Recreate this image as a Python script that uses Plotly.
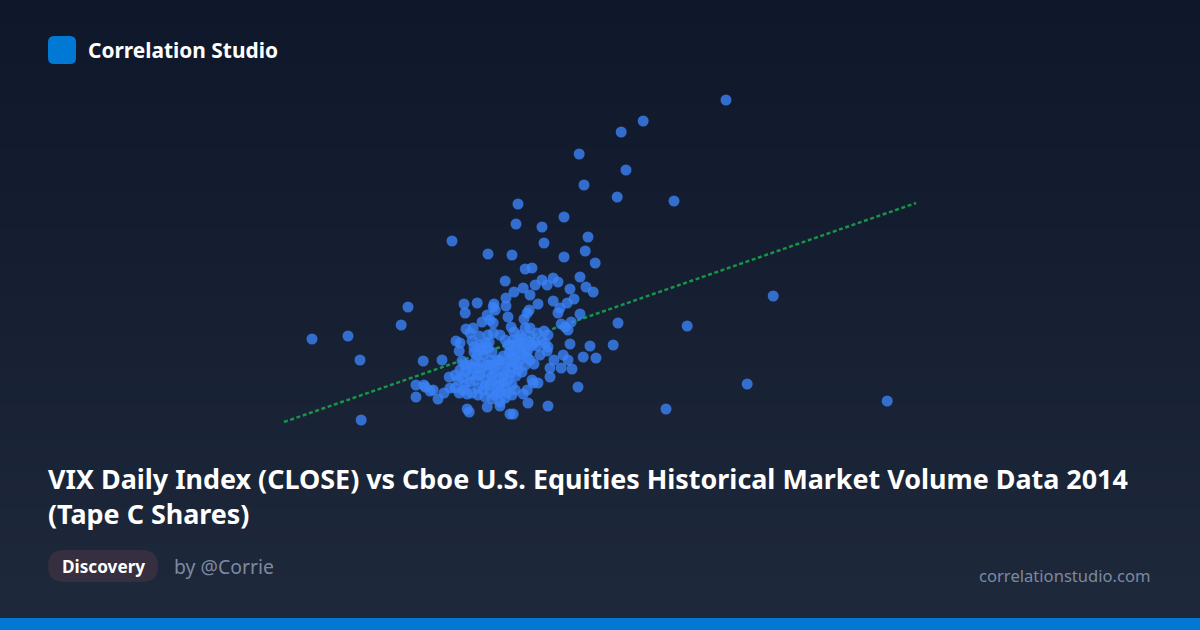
import plotly.graph_objects as go

W, H = 1200, 630
FONT = "Noto Sans"
BLUE = "#0078d4"

title_text = "VIX Daily Index (CLOSE) vs Cboe U.S. Equities Historical Market Volume Data 2014<br>(Tape C Shares)"
brand_text = "Correlation Studio"
chip_text = "Discovery"
author_text = "by @Corrie"
site_text = "correlationstudio.com"

# VIX close
vix_close = [
    20.65, 18.58, 18.03, 16.98, 18.15, 17.10, 17.93, 19.35, 15.45, 16.60, 15.40, 16.05,
    17.20, 16.10, 13.80, 14.70, 15.30, 16.60, 17.13, 17.38, 15.63, 15.80, 21.83, 19.68,
    17.95, 11.20, 10.30, 12.53, 12.70, 11.50, 11.53, 21.18, 19.15, 24.68,
    15.13, 16.05, 16.18, 16.33, 16.45, 15.88, 15.58, 15.35, 15.75, 16.75, 17.00, 17.15,
    17.33, 14.10, 14.43, 14.13, 14.85, 14.83, 14.88, 15.15, 15.15, 15.95, 16.33, 16.85,
    16.68, 16.50, 16.45, 15.73, 15.68, 15.20, 15.60, 14.68, 14.75, 14.55, 14.83, 17.00,
    16.53, 16.63, 16.70, 16.78, 14.15, 14.33, 14.25, 15.28, 15.35, 15.63, 15.75, 16.10,
    16.20, 15.93, 14.70, 14.83, 15.00, 13.90, 14.00, 13.98, 14.30, 14.35, 16.75, 17.25,
    17.83, 16.20, 16.18, 15.88, 15.80, 15.33, 15.20, 15.43, 15.55, 15.93, 14.50, 14.70,
    14.43, 17.08, 17.40, 16.58, 16.35, 16.70, 16.25, 16.53, 16.80, 16.25, 16.95, 13.08,
    13.55, 14.05, 13.73, 12.90, 13.10, 13.13, 13.25, 13.33, 12.90, 13.45, 13.60, 13.75,
    13.98, 14.18, 14.30, 14.18, 14.23, 14.68, 15.00, 15.00, 15.25, 15.33, 16.20, 15.70,
    15.30, 15.58, 15.68, 15.80, 15.83, 15.95,
    14.50, 14.75, 15.00, 15.18, 15.38, 15.55, 15.75, 15.85, 15.25, 15.08, 15.50, 15.70,
    15.30, 15.13, 14.88, 14.68, 14.50, 14.30, 14.13, 13.95, 14.13, 14.38, 14.63, 14.80,
    15.00, 15.20, 15.40, 15.55, 14.75, 14.93, 14.58, 14.75, 14.88, 15.00, 14.63, 14.45,
    15.13, 15.30, 14.25, 14.00, 15.43, 15.63, 14.58, 14.80, 14.38, 15.38, 15.13,
    14.73, 16.00, 16.05, 15.75, 15.50, 16.13, 13.88, 14.05, 14.45, 15.13, 15.38, 14.55,
    14.93, 15.33, 15.23, 15.55, 14.65, 14.48,
    14.75, 14.95, 15.13, 15.30, 15.50, 15.68, 14.88, 15.08, 15.25, 15.45, 15.00, 15.18,
    14.80, 14.63, 14.43, 14.25, 14.08, 14.68, 15.63, 15.38, 15.55, 15.25, 15.75, 14.95,
    14.80, 15.08, 14.45, 14.25, 14.50, 14.35, 14.60, 14.13, 13.88,
]

# Tape C shares (billions), same order
tape_c_shares = [
    4.50, 4.29, 4.18, 3.96, 3.80, 3.65, 3.53, 3.49, 3.46, 3.33, 3.26, 3.23,
    3.13, 3.07, 3.09, 2.96, 2.95, 2.93, 2.99, 2.87, 2.81, 2.82, 2.54, 2.24,
    2.27, 2.14, 2.11, 2.25, 2.43, 1.90, 1.30, 1.66, 1.41, 1.49,
    2.69, 2.70, 2.65, 2.72, 2.68, 2.65, 2.62, 2.58, 2.55, 2.61, 2.73, 2.63,
    2.58, 2.46, 2.47, 2.37, 2.46, 2.43, 2.40, 2.52, 2.44, 2.46, 2.49, 2.51,
    2.47, 2.42, 2.37, 2.40, 2.37, 2.33, 2.31, 2.35, 2.30, 2.28, 2.27, 2.36,
    2.26, 2.23, 2.20, 2.28, 2.21, 2.22, 2.17, 2.23, 2.18, 2.22, 2.22, 2.19,
    2.15, 2.17, 2.15, 2.17, 2.15, 2.09, 2.07, 1.99, 2.09, 2.03, 2.06, 2.04,
    2.05, 2.03, 1.99, 2.08, 2.05, 2.10, 2.05, 2.08, 2.07, 2.04, 2.02, 2.02,
    1.95, 1.93, 1.92, 1.95, 1.90, 1.90, 1.82, 1.82, 1.81, 1.73, 1.63, 1.89,
    1.90, 1.89, 1.73, 1.65, 1.65, 1.63, 1.59, 1.60, 1.53, 1.51, 1.57, 1.62,
    1.57, 1.56, 1.57, 1.41, 1.38, 1.43, 1.48, 1.44, 1.36, 1.36, 1.44, 1.47,
    1.55, 1.56, 1.60, 1.70, 1.67, 1.67,
    1.88, 1.90, 1.90, 1.88, 1.92, 1.95, 1.90, 1.86, 1.98, 1.94, 2.02, 2.00,
    1.82, 1.78, 1.82, 1.78, 1.75, 1.82, 1.78, 1.70, 1.65, 1.70, 1.70, 1.74,
    1.72, 1.70, 1.74, 1.78, 1.65, 1.65, 1.60, 1.58, 1.55, 1.58, 1.53, 1.55,
    1.62, 1.65, 1.75, 1.80, 1.85, 1.85, 1.95, 1.98, 1.88, 2.05, 2.10,
    2.08, 1.95, 2.10, 2.14, 2.15, 2.07, 1.62, 1.72, 1.62, 1.52, 1.60, 1.82,
    1.90, 1.95, 1.97, 2.12, 2.07, 2.14,
    1.85, 1.86, 1.84, 1.88, 1.90, 1.93, 1.78, 1.74, 1.76, 1.80, 1.65, 1.57,
    1.69, 1.65, 1.75, 1.68, 1.60, 1.85, 1.98, 2.00, 2.04, 2.05, 2.08, 1.58,
    1.51, 1.68, 1.82, 1.85, 2.05, 1.98, 2.00, 1.85, 1.75,
]

trend_x = [9.60, 25.40]
trend_y = [1.28, 3.47]


def px_rect(x0, y0, x1, y1, color):
    return dict(type="rect", xref="paper", yref="paper", layer="below",
                x0=x0 / W, x1=x1 / W, y0=1 - y0 / H, y1=1 - y1 / H,
                fillcolor=color, line_width=0)


def px_round(x0, y0, x1, y1, r, color):
    px = lambda x: x / W
    py = lambda y: 1 - y / H
    path = (
        f"M {px(x0 + r)},{py(y0)} L {px(x1 - r)},{py(y0)} "
        f"Q {px(x1)},{py(y0)} {px(x1)},{py(y0 + r)} L {px(x1)},{py(y1 - r)} "
        f"Q {px(x1)},{py(y1)} {px(x1 - r)},{py(y1)} L {px(x0 + r)},{py(y1)} "
        f"Q {px(x0)},{py(y1)} {px(x0)},{py(y1 - r)} L {px(x0)},{py(y0 + r)} "
        f"Q {px(x0)},{py(y0)} {px(x0 + r)},{py(y0)} Z"
    )
    return dict(type="path", xref="paper", yref="paper", layer="below", path=path,
                fillcolor=color, line_width=0)


def label(x, y, text, size, color, bold=False, anchor="left"):
    return dict(xref="paper", yref="paper", x=x / W, y=1 - y / H, text=text,
                showarrow=False, xanchor=anchor, yanchor="middle", align="left",
                font=dict(family=FONT, size=size, color=color,
                          weight="bold" if bold else "normal"))


# page background, top to bottom
top, bottom = (15, 23, 42), (30, 41, 59)
shapes = []
for i in range(0, H, 2):
    t = i / H
    c = [round(a + (b - a) * t) for a, b in zip(top, bottom)]
    shapes.append(px_rect(0, i, W, i + 2, f"rgb({c[0]},{c[1]},{c[2]})"))

shapes.append(px_rect(0, 618, W, 630, BLUE))
shapes.append(px_round(48, 36, 76, 64, 6, BLUE))
shapes.append(px_round(48, 550, 158, 582, 16, "#352f3f"))

fig = go.Figure()
fig.add_trace(go.Scatter(x=trend_x, y=trend_y, mode="lines",
                         line=dict(color="#16a34a", width=2.5, dash="4px,2.6px"),
                         opacity=0.9))
fig.add_trace(go.Scatter(x=vix_close, y=tape_c_shares, mode="markers",
                         marker=dict(color="#3b82f6", size=11, opacity=0.8, line_width=0)))

fig.update_layout(
    width=W, height=H,
    margin=dict(l=0, r=0, t=0, b=0),
    showlegend=False,
    paper_bgcolor="#0f172a",
    plot_bgcolor="rgba(0,0,0,0)",
    xaxis=dict(range=[2.5, 32.5], visible=False),
    yaxis=dict(range=[-0.8, 5.5], visible=False),
    shapes=shapes,
    annotations=[
        label(86, 50, brand_text, 20.9, "#ffffff", bold=True),
        label(46, 496, title_text, 26.9, "#ffffff", bold=True),
        label(103.5, 566, chip_text, 17.2, "#ffffff", bold=True, anchor="center"),
        label(172, 566, author_text, 19.4, "#7c8aa0"),
        label(1153, 575.5, site_text, 16.6, "#7c8aa0", anchor="right"),
    ],
)

fig.write_html("out.html", config=dict(displayModeBar=False),
               post_script="document.body.style.margin='0';document.body.style.overflow='hidden';")
